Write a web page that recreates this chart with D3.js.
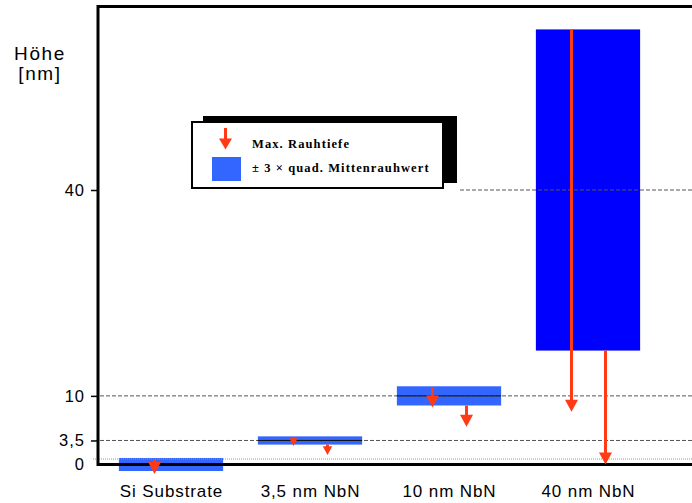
<!DOCTYPE html>
<html>
<head>
<meta charset="utf-8">
<script src="https://cdn.jsdelivr.net/npm/d3@7"></script>
<style>
  html, body { margin: 0; padding: 0; background: #fff; }
  svg { display: block; }
</style>
</head>
<body>
<script>
// Samples along the x axis
const categories = ["Si Substrate", "3,5 nm NbN", "10 nm NbN", "40 nm NbN"];
// Mean surface height of each sample [nm]
const meanHeight = [0, 3.5, 10, 40];
// Half-width of the ± 3 × Rq band [nm]
const rqBand = [0.95, 0.6, 1.4, 23.4];
// Max. roughness depth arrows, first arrow (start / tip) [nm]
const rtFirstStart = [0.8, 4.0, 11.3, 63.4];
const rtFirstEnd = [-1.4, 2.7, 8.3, 7.7];
// Second arrow, starting at the lower band edge [nm]
const rtSecondStart = [null, 2.9, 8.6, 16.6];
const rtSecondEnd = [null, 1.4, 5.5, 0];
// Reference level of the substrate surface [nm]
const surfaceLevel = 0.8;
// Y axis ticks
const tickValues = [0, 3.5, 10, 40];
const tickLabels = ["0", "3,5", "10", "40"];
const legendLabels = ["Max. Rauhtiefe", "± 3 × quad. Mittenrauhwert"];

const W = 692, H = 503;
const RED = "#ff3a14";
const LIGHT_BLUE = "#3366ff";
const DEEP_BLUE = "#0000ff";

const svg = d3.select("body").append("svg")
  .attr("width", W).attr("height", H)
  .attr("font-family", "'Liberation Sans', Arial, sans-serif");

const axisX = 98;
const y = d3.scaleLinear().domain([0, 40]).range([464.5, 190]);
const x = d3.scaleBand().domain(categories)
  .range([101.5, 657.5]).paddingInner(0.25).paddingOuter(0.125);

const rows = categories.map((c, i) => ({
  c, i, mean: meanHeight[i], band: rqBand[i],
  a1: [rtFirstStart[i], rtFirstEnd[i]],
  a2: rtSecondStart[i] == null ? null : [rtSecondStart[i], rtSecondEnd[i]]
}));

// ± 3 × Rq bands
svg.append("g").selectAll("rect").data(rows).join("rect")
  .attr("x", d => x(d.c))
  .attr("width", x.bandwidth())
  .attr("y", d => y(d.mean + d.band))
  .attr("height", d => y(d.mean - d.band) - y(d.mean + d.band))
  .attr("fill", d => d.band > 10 ? DEEP_BLUE : LIGHT_BLUE);

// Dashed reference lines
const legendRight = 457;
const grid = svg.append("g");
tickValues.filter(v => v > 0).forEach(v => {
  grid.append("line")
    .attr("x1", v === 40 ? legendRight + 3 : axisX + 2).attr("x2", W)
    .attr("y1", y(v)).attr("y2", y(v))
    .attr("stroke", "#555").attr("stroke-width", 1)
    .attr("stroke-dasharray", "4,2");
});
// Dotted substrate surface line
grid.append("line")
  .attr("x1", 93).attr("x2", W)
  .attr("y1", y(surfaceLevel)).attr("y2", y(surfaceLevel))
  .attr("stroke", "#999").attr("stroke-width", 1)
  .attr("stroke-dasharray", "1,1");

// Mean line inside the thin bands
svg.append("g").selectAll("line").data(rows.filter(d => d.mean > 0 && d.band < 10)).join("line")
  .attr("x1", d => x(d.c)).attr("x2", d => x(d.c) + x.bandwidth())
  .attr("y1", d => y(d.mean)).attr("y2", d => y(d.mean))
  .attr("stroke", "#111").attr("stroke-width", 1);

// Frame: left, top and bottom axis lines
svg.append("path")
  .attr("d", `M${W},6.5H${axisX}V464.5H${W}`)
  .attr("fill", "none").attr("stroke", "#000").attr("stroke-width", 3);

// Y axis ticks and labels
const yAxis = d3.axisLeft(y).tickValues(tickValues)
  .tickFormat((d, i) => tickLabels[i]).tickSize(7).tickPadding(7);
const ga = svg.append("g").attr("transform", `translate(${axisX},0)`).call(yAxis);
ga.select(".domain").remove();
ga.selectAll(".tick line").attr("stroke", "#000").attr("stroke-width", 1.5)
  .filter(d => d === 0).remove();
ga.selectAll(".tick text")
  .attr("font-family", "'Liberation Sans', Arial, sans-serif")
  .attr("font-size", 16.5).attr("fill", "#000")
  .attr("letter-spacing", 1).attr("dx", 1);

// Downward arrow with a triangular head
function arrow(g, cx, yStart, yTip, hh = 12, hw = 13) {
  const len = yTip - yStart;
  const h = Math.min(hh, len * 0.85);
  const w = h * hw / hh;
  if (len - h > 0) {
    g.append("line").attr("x1", cx).attr("x2", cx)
      .attr("y1", yStart).attr("y2", yTip - h + 1)
      .attr("stroke", RED).attr("stroke-width", 3);
  }
  g.append("path")
    .attr("d", `M${cx - w / 2},${yTip - h}L${cx + w / 2},${yTip - h}L${cx},${yTip}Z`)
    .attr("fill", RED);
}

const ag = svg.append("g");
rows.forEach(d => {
  const cx = x(d.c) + x.bandwidth() / 2;
  arrow(ag, cx - 16.5, y(d.a1[0]), y(d.a1[1]));
  if (d.a2) arrow(ag, cx + 17.5, y(d.a2[0]), y(d.a2[1]));
});

// Category labels
svg.append("g").selectAll("text").data(rows).join("text")
  .attr("x", d => x(d.c) + x.bandwidth() / 2 + 0.5)
  .attr("y", 497)
  .attr("text-anchor", "middle")
  .attr("font-size", 17)
  .attr("letter-spacing", 0.9)
  .text(d => d.c);

// Axis title
const title = svg.append("text").attr("text-anchor", "middle")
  .attr("font-size", 19).attr("letter-spacing", 1.6);
title.append("tspan").attr("x", 40).attr("y", 59.5).text("Höhe");
title.append("tspan").attr("x", 40).attr("y", 80).text("[nm]");

// Legend with drop shadow
const lg = svg.append("g");
lg.append("rect").attr("x", 203).attr("y", 116).attr("width", legendRight - 203).attr("height", 67)
  .attr("fill", "#000");
lg.append("rect").attr("x", 192).attr("y", 122).attr("width", 251).attr("height", 66)
  .attr("fill", "#fff").attr("stroke", "#000").attr("stroke-width", 2);
arrow(lg, 225.5, 128, 149.5, 11, 13);
lg.append("rect").attr("x", 212).attr("y", 157).attr("width", 29).attr("height", 24)
  .attr("fill", LIGHT_BLUE);
lg.selectAll("text.leg").data(legendLabels).join("text")
  .attr("class", "leg")
  .attr("x", 252)
  .attr("y", (d, i) => 147.5 + i * 24)
  .attr("font-family", "'Liberation Serif', 'Times New Roman', serif")
  .attr("font-weight", "bold")
  .attr("font-size", 12.5)
  .attr("letter-spacing", 1.1)
  .text(d => d);
</script>
</body>
</html>
